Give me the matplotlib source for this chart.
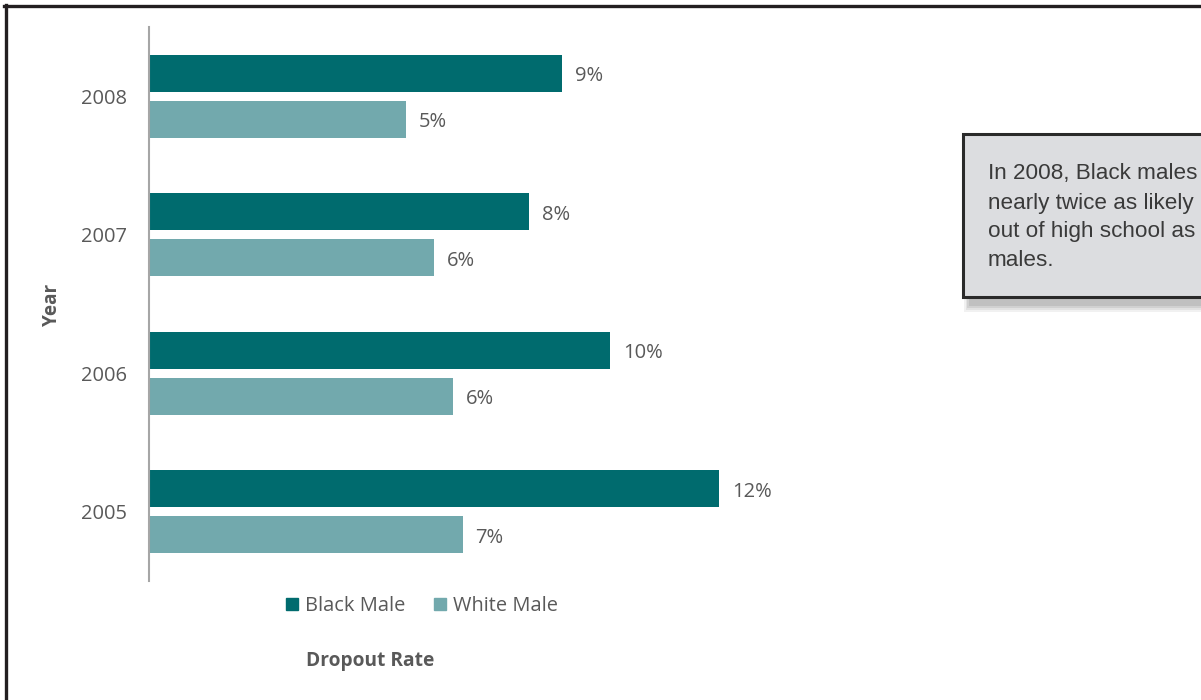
import matplotlib
matplotlib.use('Agg')
import matplotlib.pyplot as plt
from matplotlib.patches import Rectangle, Patch
from matplotlib.lines import Line2D
import numpy as np

# data
years = ['2008', '2007', '2006', '2005']
black_male = [8.7, 8.0, 9.7, 12.0]
white_male = [5.4, 6.0, 6.4, 6.6]
black_labels = ['9%', '8%', '10%', '12%']
white_labels = ['5%', '6%', '6%', '7%']
note_lines = ['In 2008, Black males', 'nearly twice as likely', 'out of high school as', 'males.']

dark = '#006b6e'
light = '#72a9ad'
grey = '#595959'

plt.rcParams['font.family'] = ['Open Sans', 'DejaVu Sans']

W, H = 1201, 700
fig = plt.figure(figsize=(W / 100, H / 100), dpi=100)

def fx(px):
	return px / W

def fy(py):
	return 1 - py / H

ax = fig.add_axes([fx(149), fy(581), fx(940) - fx(149), fy(27) - fy(581)])

pos = np.arange(len(years))
h = 0.267
off = 0.166
ax.barh(pos - off, black_male, height=h, color=dark)
ax.barh(pos + off, white_male, height=h, color=light)

for p, v, lab in zip(pos, black_male, black_labels):
	ax.annotate(lab, (v, p - off), xytext=(13, -3), textcoords='offset pixels',
		va='center', ha='left', fontsize=14.5, color=grey)
for p, v, lab in zip(pos, white_male, white_labels):
	ax.annotate(lab, (v, p + off), xytext=(13, -3), textcoords='offset pixels',
		va='center', ha='left', fontsize=14.5, color=grey)

ax.set_ylim(3.5, -0.5)
ax.set_xlim(0, 791 / 47.5)
ax.set_yticks(pos)
ax.set_yticklabels(years, fontsize=14.5, color=grey)
ax.tick_params(axis='y', length=0, pad=16)
ax.set_xticks([])
for s in ['top', 'right', 'bottom']:
	ax.spines[s].set_visible(False)
ax.spines['left'].set_color('#a6a6a6')
ax.spines['left'].set_linewidth(1.5)

fig.text(fx(52), fy(305), 'Year', rotation=90, ha='center', va='center',
	fontsize=13.7, fontweight='bold', color=grey)
fig.text(fx(370), fy(661), 'Dropout Rate', ha='center', va='center',
	fontsize=13.8, fontweight='bold', color=grey)

handles = [Patch(color=dark, label='Black Male'), Patch(color=light, label='White Male')]
fig.legend(handles=handles, loc='center', bbox_to_anchor=(fx(422), fy(606)), ncol=2,
	frameon=False, handlelength=0.6, handleheight=0.6, handletextpad=0.35,
	columnspacing=1.4, prop={'size': 14.4}, labelcolor=grey)

# callout box with shadow
for i, a in enumerate([0.08, 0.09, 0.11, 0.13]):
	d = 2 + i * 1.5
	fig.patches.append(Rectangle((fx(962 + d), fy(300 + 12 - i * 2)), fx(400), fy(140) - fy(300),
		transform=fig.transFigure, facecolor='#505050', edgecolor='none', alpha=a, zorder=1))
fig.patches.append(Rectangle((fx(963), fy(297)), fx(400), fy(134) - fy(297),
	transform=fig.transFigure, facecolor='#dcdde0', edgecolor='#2a2a2a', linewidth=2.2, zorder=2))
for i, line in enumerate(note_lines):
	fig.text(fx(988), fy(174 + 29 * i), line, ha='left', va='center', fontsize=16.2,
		color='#3a3a3a', family=['Liberation Sans', 'DejaVu Sans'], zorder=3)

# outer frame (top and left edges visible)
fig.add_artist(Line2D([fx(5.5), fx(5.5)], [0, fy(5)], transform=fig.transFigure, color='#231f20', linewidth=2.4))
fig.add_artist(Line2D([fx(4), 1], [fy(6), fy(6)], transform=fig.transFigure, color='#231f20', linewidth=2.4))

fig.savefig('out.png', dpi=100)
